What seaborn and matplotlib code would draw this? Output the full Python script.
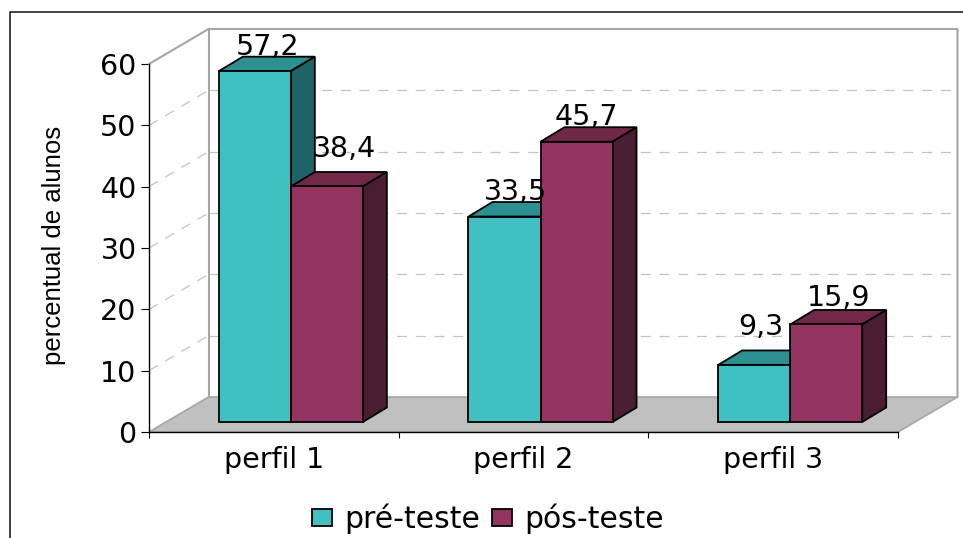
import matplotlib
matplotlib.use("Agg")
import matplotlib.pyplot as plt
from matplotlib.lines import Line2D
from matplotlib.patches import Polygon
import pandas as pd
import seaborn as sns

categories = ["perfil 1", "perfil 2", "perfil 3"]
series_names = ["pré-teste", "pós-teste"]
pre_teste = [57.2, 33.5, 9.3]
pos_teste = [38.4, 45.7, 15.9]
y_ticks = [0, 10, 20, 30, 40, 50, 60]

COL_FRONT = ["#40C0C0", "#93335F"]
COL_TOP = ["#2D9090", "#702748"]
COL_SIDE = ["#1F6464", "#4A1D33"]
# label offsets in pixels from the top-centre of the bar's front face
LABEL_OFF = [[(13, 16), (18, 29)], [(11, 17), (10, 17)], [(7, 30), (12, 18)]]

W, H = 963, 538
sns.set_theme(style="white")
plt.rcParams["font.family"] = ["DejaVu Sans"]
plt.rcParams["text.color"] = "black"
plt.rcParams["legend.labelcolor"] = "black"
FS = 20.5
FS_LEG = 21.5

df = pd.DataFrame({
    "perfil": categories * 2,
    "serie": [series_names[0]] * 3 + [series_names[1]] * 3,
    "valor": pre_teste + pos_teste,
})

fig = plt.figure(figsize=(W / 100, H / 100), dpi=100, facecolor="white")
ax = fig.add_axes([149 / W, (H - 432) / H, 749 / W, 368 / H])
sns.barplot(data=df, x="perfil", y="valor", hue="serie", palette=COL_FRONT,
            width=0.577, gap=0, saturation=1, edgecolor="black", linewidth=1.3,
            errorbar=None, ax=ax)
ax.set_xlim(-0.5, 2.5)
ax.set_ylim(0, 60)
ax.patch.set_alpha(0)

px_x = 3 / 749          # data units per pixel
px_y = 60 / 368
wall_dx, wall_dy = 59.5 * px_x, 35 * px_y
shift_x, shift_y = 17 * px_x, 10 * px_y
depth_x, depth_y = 24 * px_x, 14.5 * px_y

# walls, floor, gridlines
GRID = "#C4C4C4"
WALL = "#A6A6A6"
x0, x1 = -0.5, 2.5
ax.add_patch(Polygon([(x0, 0), (x1, 0), (x1 + wall_dx, wall_dy), (x0 + wall_dx, wall_dy)],
                     closed=True, facecolor="#C0C0C0", edgecolor=WALL, lw=1.2,
                     clip_on=False, zorder=1))
for v in y_ticks[1:-1]:
    ax.plot([x0 + wall_dx, x1 + wall_dx], [v + wall_dy] * 2, color=GRID, lw=0.9,
            ls=(0, (8, 7)), clip_on=False, zorder=0.5)
    ax.plot([x0, x0 + wall_dx], [v, v + wall_dy], color=GRID, lw=0.9,
            ls=(0, (8, 7)), clip_on=False, zorder=0.5)
ax.plot([x0, x0 + wall_dx, x1 + wall_dx, x1 + wall_dx],
        [60, 60 + wall_dy, 60 + wall_dy, wall_dy], color=WALL, lw=1.5,
        clip_on=False, zorder=0.6)
ax.plot([x0 + wall_dx] * 2, [wall_dy, 60 + wall_dy], color=WALL, lw=1.5,
        clip_on=False, zorder=0.6)

# bars: move the front faces into the floor and add their top and side faces
z = 3
for c in range(len(categories)):
    for h, container in enumerate(ax.containers):
        bar = container[c]
        left, width, val = bar.get_x(), bar.get_width(), bar.get_height()
        bar.set_x(left + shift_x)
        bar.set_y(shift_y)
        bar.set_clip_on(False)
        l, r, b, t = left + shift_x, left + shift_x + width, shift_y, shift_y + val
        top = [(l, t), (r, t), (r + depth_x, t + depth_y), (l + depth_x, t + depth_y)]
        side = [(r, b), (r + depth_x, b + depth_y), (r + depth_x, t + depth_y), (r, t)]
        for pts, col in ((top, COL_TOP[h]), (side, COL_SIDE[h])):
            ax.add_patch(Polygon(pts, closed=True, facecolor=col, edgecolor="black",
                                 lw=1.3, clip_on=False, zorder=z))
        bar.set_zorder(z + 0.5)
        z += 1
        ox, oy = LABEL_OFF[c][h]
        ax.annotate(f"{val:.1f}".replace(".", ","), xy=((l + r) / 2, t), xytext=(ox, oy),
                    textcoords="offset pixels", ha="center", va="baseline",
                    fontsize=FS, color="black", zorder=30, annotation_clip=False)

# axes
sns.despine(ax=ax, top=True, right=True)
for s in ("left", "bottom"):
    ax.spines[s].set_color("black")
    ax.spines[s].set_linewidth(1.0)
    ax.spines[s].set_zorder(2)
ax.set_yticks(y_ticks)
ax.set_xticks([-0.5, 0.5, 1.5, 2.5])
ax.set_xticklabels([])
ax.set_xticks([0, 1, 2], categories, minor=True)
ax.tick_params(axis="y", which="major", left=True, length=6, width=0.8, color="black",
               labelsize=FS, pad=3, labelcolor="black")
ax.tick_params(axis="x", which="major", bottom=True, length=4.5, width=0.8, color="black")
ax.tick_params(axis="x", which="minor", bottom=False, length=0, labelsize=FS, pad=10,
               labelcolor="black")
for lab in ax.get_xticklabels(minor=True):
    lab.set_x(lab.get_position()[0] - 2 * px_x)
ax.set_xlabel("")
ax.set_ylabel("percentual de alunos", fontsize=18.5, color="black",
              fontfamily="Liberation Sans")
ax.yaxis.set_label_coords(66 / W, (H - 245) / H, transform=fig.transFigure)

# legend
sns.move_legend(ax, "center", bbox_to_anchor=(488 / W, (H - 519) / H),
                bbox_transform=fig.transFigure, ncol=2, frameon=False, title=None,
                fontsize=FS_LEG, handlelength=0.68, handleheight=0.5, handletextpad=0.4,
                columnspacing=0.4, borderpad=0, borderaxespad=0, labelcolor="black")

# outer frame (top and left only)
fig.add_artist(Line2D([9.5 / W, 9.5 / W, 1], [0, (H - 11.5) / H, (H - 11.5) / H],
                      color="#222222", lw=1.2))

fig.savefig("out.png", dpi=100)
